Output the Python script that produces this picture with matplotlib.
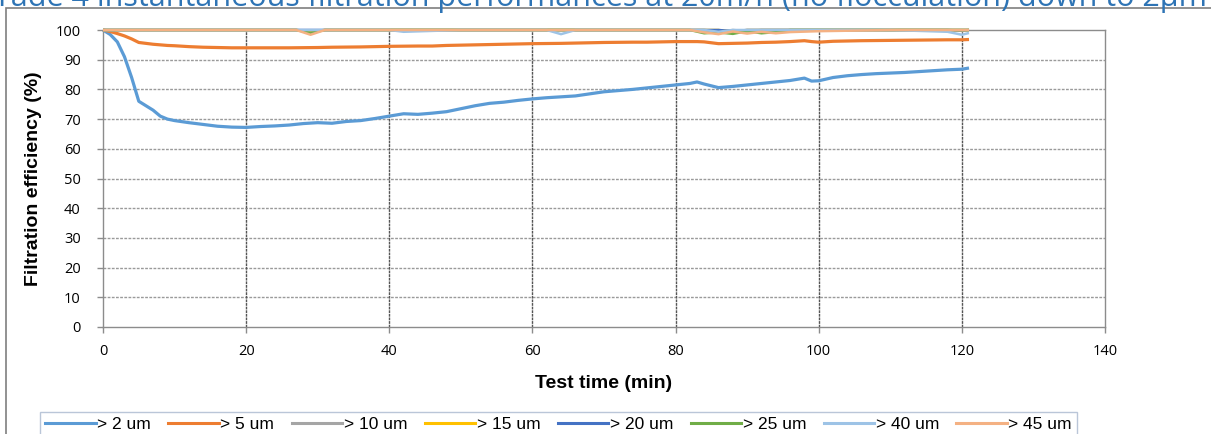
import matplotlib
matplotlib.use("Agg")
import matplotlib.pyplot as plt
from matplotlib.lines import Line2D
from matplotlib.patches import Rectangle

# ---------------- data ----------------
t_main = [0, 1, 2, 3, 4, 5, 6, 7, 8, 9, 10, 12, 14, 16, 18, 20, 22, 24, 26, 28, 30,
          32, 34, 36, 38, 40, 42, 44, 46, 48, 50, 52, 54, 56, 58, 60, 62, 64, 66, 68,
          70, 72, 74, 76, 78, 80, 82, 83, 84, 86, 88, 90, 92, 94, 96, 98, 99, 100,
          102, 104, 106, 108, 110, 112, 114, 116, 118, 120, 121]
eff_2um = [100, 98.5, 96, 91, 84, 76, 74.5, 73, 71, 70, 69.5, 68.8, 68.2, 67.6, 67.3,
           67.2, 67.5, 67.7, 68, 68.5, 68.8, 68.6, 69.2, 69.5, 70.2, 71, 71.8, 71.6,
           72, 72.5, 73.5, 74.5, 75.3, 75.7, 76.3, 76.8, 77.2, 77.5, 77.8, 78.5, 79.2,
           79.6, 80, 80.5, 81, 81.5, 82, 82.5, 81.8, 80.6, 81, 81.5, 82, 82.5, 83,
           83.8, 82.8, 82.9, 84, 84.6, 85, 85.3, 85.5, 85.7, 86, 86.3, 86.6, 86.8, 87.2]
eff_5um = [100, 99.5, 98.8, 98, 97, 95.8, 95.5, 95.2, 95, 94.8, 94.7, 94.4, 94.2, 94.1,
           94, 94, 94, 94, 94, 94.05, 94.1, 94.2, 94.25, 94.3, 94.4, 94.5, 94.55, 94.6,
           94.6, 94.8, 94.9, 95, 95.1, 95.2, 95.3, 95.4, 95.45, 95.5, 95.6, 95.7, 95.8,
           95.85, 95.9, 95.9, 96, 96.1, 96.1, 96.1, 96, 95.4, 95.5, 95.6, 95.8, 95.9,
           96.1, 96.4, 96.1, 95.9, 96.2, 96.3, 96.4, 96.45, 96.5, 96.55, 96.6, 96.65,
           96.7, 96.7, 96.8]

t_near = [0, 10, 20, 27, 29, 31, 40, 42, 50, 62, 64, 66, 75, 82, 84, 86, 88, 90, 92,
          94, 96, 100, 110, 118, 120, 121]
eff_10um = [100, 100, 100, 100, 99.6, 100, 100, 100, 100, 100, 100, 100, 100, 100,
            100, 99.5, 100, 99.6, 100, 100, 100, 100, 100, 100, 99.7, 100]
eff_15um = [100, 100, 100, 100, 99.5, 100, 100, 100, 100, 100, 100, 100, 100, 100,
            100, 100, 99.4, 100, 100, 100, 100, 100, 100, 100, 100, 100]
eff_20um = [100, 100, 100, 100, 100, 100, 100, 100, 100, 100, 100, 100, 100, 100,
            100, 100, 99.6, 100, 100, 100, 100, 100, 100, 100, 100, 100]
eff_25um = [100, 100, 100, 100, 99.0, 100, 100, 100, 100, 100, 100, 100, 100, 100,
            98.9, 99.2, 98.7, 99.6, 98.9, 99.3, 100, 100, 100, 100, 100, 100]
eff_40um = [100, 100, 100, 100, 100, 100, 100, 99.4, 100, 100, 98.6, 100, 100, 100,
            100, 99.4, 100, 100, 100, 100, 100, 100, 100, 99.4, 98.4, 99.0]
eff_45um = [100, 100, 100, 100, 98.4, 100, 100, 100, 100, 100, 100, 100, 100, 100,
            99.2, 98.6, 99.5, 98.8, 99.4, 98.9, 99.3, 99.6, 100, 100, 100, 100]

labels = ["> 2 um", "> 5 um", "> 10 um", "> 15 um", "> 20 um", "> 25 um", "> 40 um", "> 45 um"]
colors = ["#5B9BD5", "#ED7D31", "#A5A5A5", "#FFC000", "#4472C4", "#70AD47", "#9DC3E6", "#F4B183"]

x_ticks = [0, 20, 40, 60, 80, 100, 120, 140]
y_ticks = [0, 10, 20, 30, 40, 50, 60, 70, 80, 90, 100]

title = "Grade 4 instantaneous filtration performances at 20m/h (no flocculation) down to 2µm"

# ---------------- figure ----------------
W, H = 1211, 434
fig = plt.figure(figsize=(W / 100, H / 100), dpi=100)

def fx(px):
    return px / W

def fy(py):
    return 1 - py / H

# outer frame
fig.patches.append(Rectangle((fx(6), fy(440)), fx(1215) - fx(6), fy(8) - fy(440),
                             transform=fig.transFigure, fill=False,
                             edgecolor="#7f7f7f", linewidth=1.2))

# title (mostly cut at top)
fig.text(fx(-24), fy(6), title, color="#2E74B5", fontsize=22,
         family=["Open Sans", "DejaVu Sans"], va="baseline", ha="left")

ax = fig.add_axes([fx(103), fy(327), fx(1105) - fx(103), fy(30) - fy(327)])

series_t = [t_main, t_main, t_near, t_near, t_near, t_near, t_near, t_near]
series_v = [eff_2um, eff_5um, eff_10um, eff_15um, eff_20um, eff_25um, eff_40um, eff_45um]
widths = [2.3, 2.3, 1.8, 1.8, 1.8, 1.8, 1.8, 1.8]
zord = [3, 3, 4, 4, 4, 4, 4, 5]
for t, v, c, lw, z in zip(series_t, series_v, colors, widths, zord):
    ax.plot(t, v, color=c, lw=lw, clip_on=False, zorder=z, solid_capstyle="butt")

ax.set_xlim(0, 140)
ax.set_ylim(0, 100)
ax.set_xticks(x_ticks)
ax.set_yticks(y_ticks)

for spine in ax.spines.values():
    spine.set_color("#8c8c8c")
    spine.set_linewidth(1.0)

# grids
for yv in y_ticks[1:-1]:
    ax.axhline(yv, color="#9a9a9a", lw=1.0, ls=(0, (2, 1)), zorder=1)
for xv in x_ticks[1:-1]:
    ax.axvline(xv, color="#555555", lw=1.0, ls=(0, (2, 0.6)), zorder=1)

ax.tick_params(axis="both", direction="out", length=4, color="#8c8c8c", width=1)
ax.tick_params(axis="y", pad=12)
ax.tick_params(axis="x", pad=8)
for lab in ax.get_yticklabels():
    lab.set_family(["Open Sans", "DejaVu Sans"])
    lab.set_fontsize(10.5)
for lab in ax.get_xticklabels():
    lab.set_family(["Open Sans", "DejaVu Sans"])
    lab.set_fontsize(10.5)

ax.set_xlabel("Test time (min)", fontsize=14, fontweight="bold",
              family=["Liberation Sans Narrow", "Liberation Sans", "DejaVu Sans"], labelpad=12)
ax.set_ylabel("Filtration efficiency (%)", fontsize=14, fontweight="bold",
              family=["Liberation Sans Narrow", "Liberation Sans", "DejaVu Sans"], labelpad=10)

# legend (cut at bottom)
handles = [Line2D([0], [0], color=c, lw=2.2) for c in colors]
leg = fig.legend(handles, labels, loc="upper left", bbox_to_anchor=(fx(40), fy(412)),
                 borderaxespad=0, ncol=8, frameon=True, fancybox=False, handlelength=2.9,
                 handletextpad=0.1, columnspacing=1.0, borderpad=0.3,
                 prop={"family": ["Liberation Sans", "DejaVu Sans"], "size": 12.5})
leg.get_frame().set_edgecolor("#a9b8cf")
leg.get_frame().set_linewidth(1.0)

fig.savefig("out.png", dpi=100)
